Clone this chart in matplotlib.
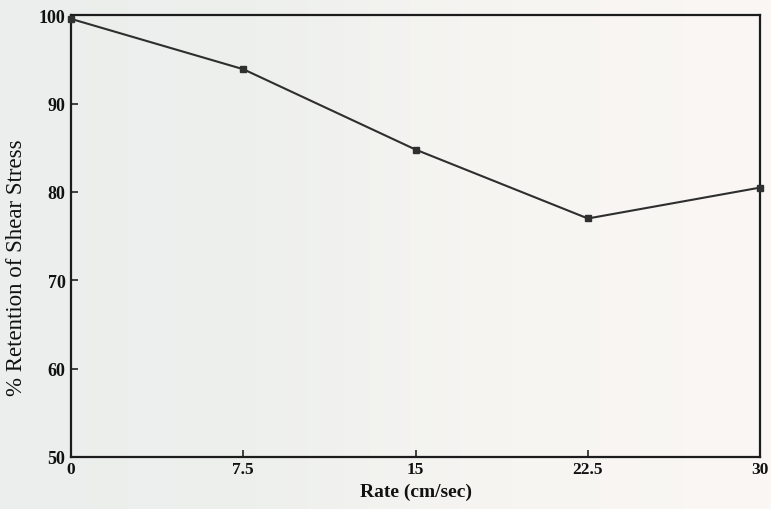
import numpy as np
import matplotlib
matplotlib.use("Agg")
import matplotlib.pyplot as plt
from matplotlib.colors import LinearSegmentedColormap

# Shear stress retention versus winding rate
rate = [0, 7.5, 15, 22.5, 30]
retention = [99.6, 93.9, 84.8, 77.0, 80.5]

x_ticks = [0, 7.5, 15, 22.5, 30]
x_tick_labels = ["0", "7.5", "15", "22.5", "30"]
y_ticks = [50, 60, 70, 80, 90, 100]
y_tick_labels = ["50", "60", "70", "80", "90", "100"]

plt.rcParams["font.family"] = ["Liberation Serif", "DejaVu Serif"]

fig = plt.figure(figsize=(7.71, 5.10), dpi=100)

# paper tone: cooler grey on the left, warmer white on the right
bg = fig.add_axes([0, 0, 1, 1], zorder=-10)
paper = LinearSegmentedColormap.from_list(
    "paper", ["#ebeeec", "#eef0ee", "#f7f5f2", "#faf7f4"])
grad = np.linspace(0, 1, 256).reshape(1, -1)
bg.imshow(grad, cmap=paper, aspect="auto", extent=[0, 1, 0, 1])
bg.set_axis_off()

ax = fig.add_axes([0.092, 0.102, 0.894, 0.866])
ax.patch.set_alpha(0)

ax.plot(rate, retention, color="#2e2e2e", lw=1.5, marker="s",
        markersize=5, markerfacecolor="#303030", markeredgecolor="#303030",
        clip_on=False, zorder=3)

ax.set_xlim(0, 30)
ax.set_ylim(50, 100)
ax.set_xticks(x_ticks)
ax.set_xticklabels(x_tick_labels, fontsize=12.5, fontweight="bold")
ax.set_yticks(y_ticks)
ax.set_yticklabels(y_tick_labels, fontsize=13, fontweight="bold")

ax.tick_params(axis="both", direction="in", length=5, width=1.2,
               color="#222222", labelcolor="#111111")
ax.tick_params(axis="x", pad=3)
ax.tick_params(axis="y", pad=4)

for s in ax.spines.values():
    s.set_linewidth(1.6)
    s.set_color("#1c1c1c")

ax.set_xlabel("Rate (cm/sec)", fontsize=14, fontweight="bold",
              color="#111111", labelpad=4)
ax.set_ylabel("% Retention of Shear Stress", fontsize=16.5,
              color="#111111")
ax.yaxis.set_label_coords(-0.064, 0.43)

fig.savefig("out.png", dpi=100)
